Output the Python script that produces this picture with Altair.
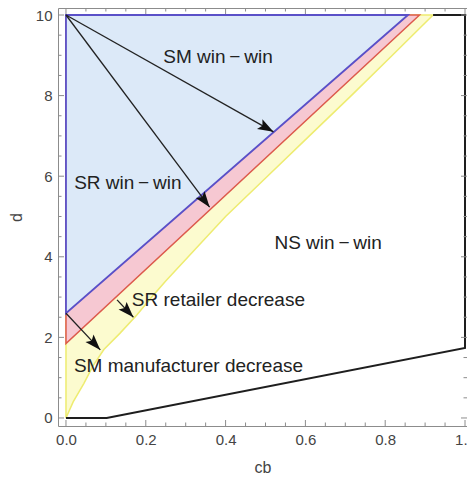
import math
import altair as alt
import pandas as pd

# ---------------- data ----------------
blue_cb = [0.0, 0.857]
blue_d = [2.6, 10.0]
red_cb = [0.0, 0.886]
red_d = [1.85, 10.0]
yellow_cb = [0.0, 0.018, 0.045, 0.068, 0.095, 0.135, 0.177, 0.215, 0.25, 0.325,
             0.40, 0.505, 0.61, 0.715, 0.818, 0.92]
yellow_d = [0.0, 0.4, 0.86, 1.3, 1.7, 2.1, 2.55, 3.0, 3.4, 4.2,
            5.0, 6.0, 7.0, 8.0, 9.0, 10.0]
ns_cb = [0.0, 0.102, 1.0, 1.0, 0.92]
ns_d = [0.0, 0.0, 1.74, 10.0, 10.0]

arrow_cb0 = [0.0, 0.0, 0.0, 0.128]
arrow_d0 = [10.0, 10.0, 2.6, 2.93]
arrow_cb1 = [0.52, 0.36, 0.086, 0.169]
arrow_d1 = [7.1, 5.23, 1.69, 2.5]

label_text = ["SM win\u2009\u2212\u2009win", "SR win\u2009\u2212\u2009win", "NS win\u2009\u2212\u2009win",
              "SR retailer decrease", "SM manufacturer decrease"]
label_cb = [0.381, 0.155, 0.657, 0.382, 0.307]
label_d = [8.96, 5.82, 4.34, 2.93, 1.30]

x_major = [0.0, 0.2, 0.4, 0.6, 0.8, 1.0]
x_minor = [0.05, 0.1, 0.15, 0.25, 0.3, 0.35, 0.45, 0.5, 0.55, 0.65, 0.7, 0.75, 0.85, 0.9, 0.95]
y_major = [0, 2, 4, 6, 8, 10]
y_minor = [0.5, 1, 1.5, 2.5, 3, 3.5, 4.5, 5, 5.5, 6.5, 7, 7.5, 8.5, 9, 9.5]

# ---------------- layout ----------------
W, H = 409, 418
PAD_L = 50
xdom = [-0.02, 1.005]
ydom = [-0.199, 10.174]
xs = alt.Scale(domain=xdom, nice=False, zero=False)
ys = alt.Scale(domain=ydom, nice=False, zero=False)
FONT = "Liberation Sans"
FRAME = "#8c8c8c"

sx = W / (xdom[1] - xdom[0])
sy = H / (ydom[1] - ydom[0])

XAX = alt.Axis(values=x_major, format=".1f", title="cb", ticks=False, tickSize=0,
               domain=False, grid=False, labelFontSize=15, labelColor="#444",
               labelFont=FONT, labelPadding=6, titleFontSize=16, titleFont=FONT,
               titleFontWeight="normal", titleColor="#444", titleX=W / 2, titleY=46,
               titleBaseline="alphabetic", titleAlign="center", labelOverlap=False)
YAX = alt.Axis(values=y_major, format="d", title="d", ticks=False, tickSize=0,
               domain=False, grid=False, labelFontSize=15, labelColor="#444",
               labelFont=FONT, labelPadding=6, titleFontSize=16, titleFont=FONT,
               titleFontWeight="normal", titleColor="#444", titleX=-37, titleY=H / 2,
               titleAngle=270, titleBaseline="alphabetic", titleAlign="center", labelOverlap=False)


def X(field):
    return alt.X(field, scale=xs, axis=XAX)


def Y(field):
    return alt.Y(field, scale=ys, axis=YAX)


def area_layer(cb, d, fill, stroke, sw):
    df = pd.DataFrame({"cb": cb, "d": d})
    return alt.Chart(df).mark_area(orient="horizontal", fill=fill, stroke=stroke,
                                   strokeWidth=sw, opacity=1, fillOpacity=1).encode(
        y=Y("d:Q"),
        x=X("cb:Q"),
        x2=alt.datum(0),
    )


yellow = area_layer(yellow_cb, yellow_d, "#fcfbcf", "#eeec70", 1.5)
red = area_layer(red_cb, red_d, "#f6c8d2", "#dd5a4c", 1.5)
blue = area_layer(blue_cb, blue_d, "#dce9f8", "#5a50c8", 1.8)

ns_df = pd.DataFrame({"cb": ns_cb, "d": ns_d, "i": list(range(len(ns_cb)))})
ns_line = alt.Chart(ns_df).mark_line(color="#1e1e1e", strokeWidth=2, strokeJoin="miter").encode(
    x=X("cb:Q"),
    y=Y("d:Q"),
    order=alt.Order("i:Q"),
)

angles = []
for a, b, c, e in zip(arrow_cb0, arrow_d0, arrow_cb1, arrow_d1):
    ang = math.degrees(math.atan2((c - a) * sx, (e - b) * sy)) % 360
    angles.append(ang)

arr_df = pd.DataFrame({"x0": arrow_cb0, "y0": arrow_d0, "x1": arrow_cb1, "y1": arrow_d1, "ang": angles})
shafts = alt.Chart(arr_df).mark_rule(color="#222222", strokeWidth=1.3).encode(
    x=X("x0:Q"),
    y=Y("y0:Q"),
    x2="x1:Q",
    y2="y1:Q",
)
heads = alt.Chart(arr_df).mark_point(shape="M0,0 L-0.35,1 L0,0.8 L0.35,1 Z", filled=True, size=1000,
                                     color="#111111", opacity=1, strokeWidth=0).encode(
    x=X("x1:Q"),
    y=Y("y1:Q"),
    angle=alt.Angle("ang:Q", scale=None),
)

lab_df = pd.DataFrame({"t": label_text, "cb": label_cb, "d": label_d})
labels = alt.Chart(lab_df).mark_text(font=FONT, fontSize=19, color="#222222", align="center",
                                     baseline="middle").encode(
    x=X("cb:Q"),
    y=Y("d:Q"),
    text="t:N",
)


def xticks(vals, length, top):
    df = pd.DataFrame({"v": vals})
    if top:
        yv, y2v = alt.value(0), alt.value(length)
    else:
        yv, y2v = alt.value(H), alt.value(H - length)
    return alt.Chart(df).mark_rule(color=FRAME, strokeWidth=1).encode(
        x=X("v:Q"), y=yv, y2=y2v)


def yticks(vals, length, right):
    df = pd.DataFrame({"v": vals})
    if right:
        xv, x2v = alt.value(W), alt.value(W - length)
    else:
        xv, x2v = alt.value(0), alt.value(length)
    return alt.Chart(df).mark_rule(color=FRAME, strokeWidth=1).encode(
        y=Y("v:Q"), x=xv, x2=x2v)


ticks = [
    xticks(x_major, 6, False), xticks(x_minor, 3.5, False),
    xticks(x_major, 6, True), xticks(x_minor, 3.5, True),
    yticks(y_major, 6, False), yticks(y_minor, 3.5, False),
    yticks(y_major, 6, True), yticks(y_minor, 3.5, True),
]

chart = alt.layer(
    yellow, red, blue, ns_line, shafts, heads, labels, *ticks
).properties(
    width=W, height=H,
    autosize=alt.AutoSizeParams(type="none"),
    padding={"left": PAD_L, "top": 0, "right": 0, "bottom": 52},
    background="white",
).configure_view(stroke=FRAME, strokeWidth=1)

chart.save("out.html", embed_options={"renderer": "svg", "actions": False})
